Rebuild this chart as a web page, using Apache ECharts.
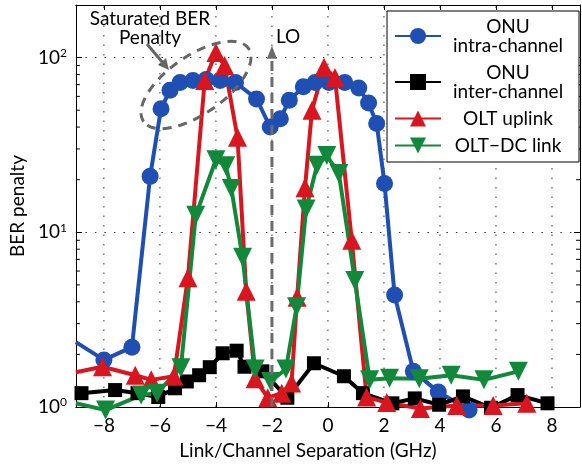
<!DOCTYPE html>
<html><head><meta charset="utf-8">
<script src="https://cdn.jsdelivr.net/npm/echarts@6/dist/echarts.min.js"></script>
<style>html,body{margin:0;padding:0;background:#fff}#c{width:582px;height:466px}</style>
</head><body><div id="c"></div>
<script>
const FONT = 'Lato';
const X_MIN = -9, X_MAX = 9, Y_MIN = 1, Y_MAX = 200;
const xTicks = [-8, -6, -4, -2, 0, 2, 4, 6, 8];
const yMinorTicks = [2, 3, 4, 5, 6, 7, 8, 9, 20, 30, 40, 50, 60, 70, 80, 90];
const loX = -2, loTop = 117;

const names = ['ONU intra-channel', 'ONU inter-channel', 'OLT uplink', 'OLT\u2212DC link'];

// ONU intra-channel (blue circles)
const intraX = [-9, -8.0, -7.0, -6.35, -5.96, -5.64, -5.28, -4.82, -4.35, -3.85, -3.3, -2.55, -2.06, -1.7, -1.38, -0.88, -0.46, 0.04, 0.6, 1.1, 1.45, 1.74, 2.02, 2.38, 3.05, 3.94, 5.04];
const intraY = [2.35, 1.86, 2.2, 20.9, 51, 65, 72, 74, 75, 74, 72, 58, 40, 44.7, 57, 68, 72, 72, 72, 67, 55, 42, 19, 4.37, 1.6, 1.22, 0.96];
// ONU inter-channel (black squares)
const interX = [-8.8, -7.6, -6.8, -6.06, -5.46, -5.04, -4.6, -4.22, -3.76, -3.26, -2.98, -2.34, -1.45, -0.5, 0.57, 1.25, 2.3, 3.1, 3.97, 4.82, 5.82, 6.77, 7.84];
const interY = [1.2, 1.25, 1.2, 1.14, 1.28, 1.4, 1.52, 1.69, 2.03, 2.1, 1.7, 1.6, 1.13, 1.78, 1.5, 1.2, 1.05, 1.12, 1.03, 1.15, 0.99, 1.17, 1.05];
// OLT uplink (red up-triangles)
const upX = [-9, -8.05, -6.88, -6.31, -5.5, -5.0, -4.4, -4.0, -3.69, -3.23, -2.92, -2.6, -2.15, -1.65, -1.3, -1.1, -0.82, -0.57, -0.14, 0.25, 0.85, 1.38, 2.1, 3.3, 4.6, 5.9, 7.1];
const upY = [1.58, 1.7, 1.52, 1.43, 1.5, 5.5, 74, 107, 90, 35, 4.6, 1.45, 1.13, 1.2, 1.37, 4.25, 18, 50, 88, 77, 9.0, 1.14, 1.06, 0.98, 1.02, 1.02, 1.05];
// OLT-DC link (green down-triangles)
const dcX = [-9, -7.94, -6.67, -6.1, -5.25, -4.72, -4.0, -3.65, -3.45, -3.05, -2.6, -2.05, -1.5, -1.12, -0.78, -0.39, -0.04, 0.39, 0.96, 1.49, 2.2, 3.26, 4.4, 5.57, 6.8];
const dcY = [1.05, 0.96, 1.17, 1.2, 1.68, 12.5, 26, 24, 17.8, 7.2, 1.65, 1.4, 1.65, 3.75, 13.6, 24.2, 27.5, 21.7, 5.3, 1.43, 1.46, 1.45, 1.52, 1.43, 1.6];

function pts(xs, ys) {
  return xs.map((x, i) => x <= X_MIN ? { value: [x, ys[i]], symbol: 'none' } : [x, ys[i]]);
}

const colors = ['#1f4fb3', '#000000', '#d9161f', '#12893a'];

function lineSeries(name, color, data, symbol, size, rotate) {
  return {
    name, type: 'line', data, symbol, symbolSize: size, symbolRotate: rotate || 0,
    clip: false, color,
    lineStyle: { color, width: 4 },
    itemStyle: { color },
    emphasis: { disabled: true }, animation: false
  };
}

function supLabel(v) {
  const e = Math.log10(v);
  if (Math.abs(e - Math.round(e)) > 1e-6) return '';
  return '{b|10}{s|' + Math.round(e) + '}';
}

const chart = echarts.init(document.getElementById('c'), null, { renderer: 'canvas' });
chart.setOption({
  animation: false,
  textStyle: { fontFamily: FONT },
  grid: { left: 72, right: 2, top: 5, bottom: 59, containLabel: false },
  xAxis: [{
    type: 'value', min: X_MIN, max: X_MAX, position: 'bottom',
    axisLine: { show: true, onZero: false, lineStyle: { color: '#000', width: 1 } },
    axisTick: { show: true, inside: true, length: 5, customValues: xTicks, lineStyle: { color: '#000' } },
    axisLabel: { customValues: xTicks, formatter: v => String(v).replace('-', '\u2212'), fontSize: 19, color: '#000', margin: 9, fontFamily: FONT },
    splitLine: { show: false },
    name: 'Link/Channel Separation (GHz)', nameLocation: 'middle', nameGap: 34,
    nameTextStyle: { fontSize: 19, color: '#000', fontFamily: FONT, padding: [0, 40, 0, 0] }
  }, {
    type: 'value', min: X_MIN, max: X_MAX, position: 'top',
    axisLine: { show: true, onZero: false, lineStyle: { color: '#000', width: 1 } },
    axisTick: { show: true, inside: true, length: 5, customValues: xTicks, lineStyle: { color: '#000' } },
    axisLabel: { show: false }, splitLine: { show: false }
  }],
  yAxis: [{
    type: 'log', logBase: 10, min: Y_MIN, max: Y_MAX, position: 'left',
    axisLine: { show: true, onZero: false, lineStyle: { color: '#000', width: 1 } },
    axisTick: { show: true, inside: true, length: 6, lineStyle: { color: '#000' } },
    axisLabel: {
      formatter: supLabel, margin: 9, color: '#000',
      rich: {
        b: { fontSize: 19, fontFamily: FONT, color: '#000' },
        s: { fontSize: 12, fontFamily: FONT, color: '#000', padding: [0, 0, 9, 0] }
      }
    },
    splitLine: { show: true, lineStyle: { color: '#333', type: [1.5, 8], width: 1 } },
    name: 'BER penalty', nameLocation: 'middle', nameGap: 34, nameRotate: 90,
    nameTextStyle: { fontSize: 19, color: '#000', fontFamily: FONT }
  }, {
    type: 'log', logBase: 10, min: Y_MIN, max: Y_MAX, position: 'right',
    axisLine: { show: true, onZero: false, lineStyle: { color: '#000', width: 1 } },
    axisTick: { show: true, inside: true, length: 6, lineStyle: { color: '#000' } },
    axisLabel: { show: false }, splitLine: { show: false }
  }],
  legend: {
    orient: 'vertical', left: 387, top: 11,
    padding: [6, 9, 7, 7], itemWidth: 46, itemHeight: 20, itemGap: 8,
    backgroundColor: '#fff', borderColor: '#000', borderWidth: 1, borderRadius: 0,
    data: names, selectedMode: false,
    formatter: n => {
      const lines = n.startsWith('ONU ') ? ['ONU', n.slice(4)] : [n];
      return lines.map(l => '{c|' + l + '}').join('\n');
    },
    textStyle: {
      color: '#000',
      rich: { c: { width: 124, align: 'center', fontSize: 19, lineHeight: 19, fontFamily: FONT, color: '#000' } }
    }
  },
  graphic: [
    { type: 'text', x: 150, y: 9, style: { text: 'Saturated BER\nPenalty', align: 'center', verticalAlign: 'top', fontSize: 19, lineHeight: 19, fontFamily: FONT, fill: '#000' } },
    { type: 'line', shape: { x1: 147, y1: 44, x2: 163, y2: 63 }, style: { stroke: '#666', lineWidth: 3 } },
    { type: 'polygon', shape: { points: [[169, 70], [158, 65], [166, 58]] }, style: { fill: '#666' } },
    { type: 'ellipse', x: 196, y: 85, rotation: 0.61, shape: { cx: 0, cy: 0, rx: 64, ry: 29 }, style: { fill: 'none', stroke: '#666', lineWidth: 3, lineDash: [9, 7] }, z: 100 },
    { type: 'text', x: 276, y: 27, style: { text: 'LO', align: 'left', verticalAlign: 'top', fontSize: 19, fontFamily: FONT, fill: '#000' } }
  ],
  series: [
    {
      type: 'custom', name: 'xgrid', silent: true, z: 1,
      data: xTicks.map(v => [v, Y_MIN]),
      renderItem: (params, api) => {
        const a = api.coord([api.value(0), Y_MIN]);
        const b = api.coord([api.value(0), Y_MAX]);
        return { type: 'line', shape: { x1: a[0], y1: a[1], x2: b[0], y2: b[1] }, style: { stroke: '#333', lineWidth: 1, lineDash: [1.5, 8] } };
      }
    },
    {
      type: 'custom', name: 'minor', silent: true, z: 1,
      data: yMinorTicks.map(v => [X_MIN, v]),
      renderItem: (params, api) => {
        const l = api.coord([X_MIN, api.value(1)]);
        const r = api.coord([X_MAX, api.value(1)]);
        return { type: 'group', children: [
          { type: 'line', shape: { x1: l[0], y1: l[1], x2: l[0] + 4, y2: l[1] }, style: { stroke: '#000', lineWidth: 1 } },
          { type: 'line', shape: { x1: r[0] - 4, y1: r[1], x2: r[0], y2: r[1] }, style: { stroke: '#000', lineWidth: 1 } }
        ] };
      }
    },
    lineSeries(names[0], colors[0], pts(intraX, intraY), 'circle', 17),
    lineSeries(names[1], colors[1], pts(interX, interY), 'rect', 14),
    lineSeries(names[2], colors[2], pts(upX, upY), 'triangle', 19),
    lineSeries(names[3], colors[3], pts(dcX, dcY), 'triangle', 19, 180),
    {
      type: 'custom', name: 'LO', silent: true, z: 10,
      data: [[loX, loTop]],
      renderItem: (params, api) => {
        const a = api.coord([api.value(0), Y_MIN]);
        const t = api.coord([api.value(0), api.value(1)]);
        return { type: 'group', children: [
          { type: 'line', shape: { x1: a[0], y1: a[1], x2: t[0], y2: t[1] + 10 }, style: { stroke: '#6b6b6b', lineWidth: 3, lineDash: [10, 6] } },
          { type: 'polygon', shape: { points: [[t[0], t[1]], [t[0] - 5, t[1] + 13], [t[0] + 5, t[1] + 13]] }, style: { fill: '#6b6b6b' } }
        ] };
      }
    }
  ]
});
</script></body></html>
